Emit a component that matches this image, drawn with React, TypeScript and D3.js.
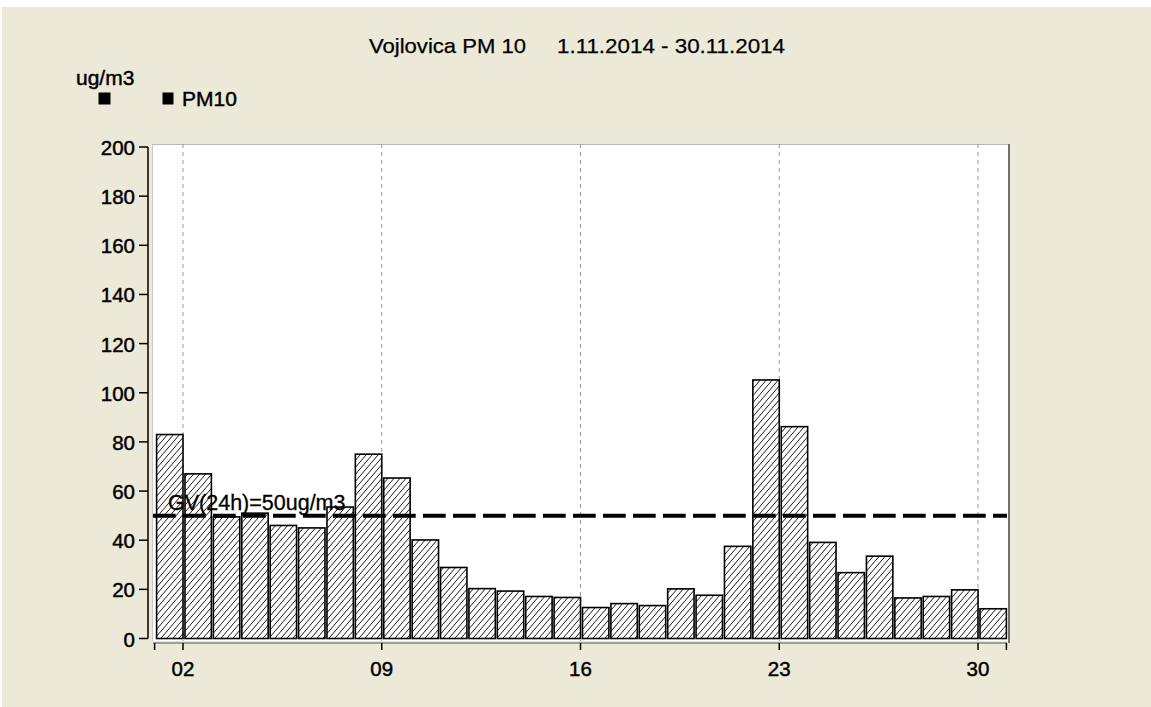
import React from "react";
import * as d3 from "d3";

const title1 = "Vojlovica PM 10";
const title2 = "1.11.2014 - 30.11.2014";
const unitLabel = "ug/m3";
const legendLabel = "PM10";
const limitLabel = "GV(24h)=50ug/m3";
const limitValue = 50;

const days: number[] = d3.range(1, 31);
const pm10: number[] = [
  83, 67, 49.5, 51, 46, 45, 53.5, 75, 65.3, 40.1,
  28.9, 20.3, 19.3, 17.1, 16.7, 12.6, 14.2, 13.4, 20.2, 17.6,
  37.5, 105.2, 86.2, 39.1, 26.8, 33.5, 16.5, 17.1, 19.8, 12.1,
];
const yTicks: number[] = [0, 20, 40, 60, 80, 100, 120, 140, 160, 180, 200];
const xTickDays: number[] = [2, 9, 16, 23, 30];

const FONT = "'Liberation Sans', Arial, sans-serif";

export default function App() {
  const day = (d: number) => new Date(Date.UTC(2014, 10, d));
  const x = d3.scaleUtc().domain([day(1), day(31)]).range([154.6, 1006.4]);
  const y = d3.scaleLinear().domain([0, 200]).range([638.5, 147]);
  const fmt = d3.utcFormat("%d");

  const plotL = 152, plotR = 1009, plotT = 144, plotB = 641;
  const axisY = 643;
  const axisX = 148;
  const bold = { stroke: "#000", strokeWidth: 0.45 };

  return (
    <svg width={1151} height={707} style={{ position: "absolute", left: 0, top: 0 }} fontFamily={FONT}>
      <defs>
        <pattern id="hatch" patternUnits="userSpaceOnUse" width={6} height={7}>
          <rect width={6} height={7} fill="#fff" />
          <path d="M0,7 L6,0 M-1,1.167 L1,-1.167 M5,8.167 L7,5.833" stroke="#000" strokeWidth={0.9} />
        </pattern>
      </defs>
      <rect x={0} y={0} width={1151} height={707} fill="#fff" />
      <rect x={2} y={7} width={1149} height={700} fill="#ECE9D8" />

      {/* title */}
      <text x={369} y={53} fontSize={21} textLength={157} lengthAdjust="spacingAndGlyphs" fill="#000" {...bold} strokeWidth={0.25}>{title1}</text>
      <text x={557} y={53} fontSize={21} textLength={228} lengthAdjust="spacingAndGlyphs" fill="#000" {...bold} strokeWidth={0.25}>{title2}</text>

      {/* unit + legend */}
      <text x={76} y={85} fontSize={21} fill="#000" {...bold}>{unitLabel}</text>
      <rect x={98.5} y={92.5} width={12} height={12} fill="#000" />
      <rect x={162.5} y={92.5} width={11} height={12} fill="#000" />
      <text x={182} y={106} fontSize={21} fill="#000" {...bold}>{legendLabel}</text>

      {/* plot area */}
      <rect x={plotL} y={plotT} width={plotR - plotL} height={plotB - plotT} fill="#fff" />
      <line x1={plotL} x2={plotR} y1={plotT + 0.5} y2={plotT + 0.5} stroke="#b8b8b8" strokeWidth={1} />
      <line x1={plotL + 0.5} x2={plotL + 0.5} y1={plotT} y2={plotB} stroke="#c8c8c8" strokeWidth={1} />
      <line x1={plotR} x2={plotR} y1={plotT} y2={axisY} stroke="#707070" strokeWidth={2} />

      {/* vertical dashed gridlines */}
      {xTickDays.map((d) => (
        <line key={"g" + d} x1={x(day(d))} x2={x(day(d))} y1={plotT} y2={plotB}
          stroke="#999" strokeWidth={1} strokeDasharray="4 4" />
      ))}

      {/* bars */}
      {days.map((d, i) => {
        const x0 = x(day(d)) + 2;
        const x1 = x(day(d + 1));
        return (
          <rect key={"b" + d} x={x0} y={y(pm10[i])} width={x1 - x0} height={y(0) - y(pm10[i])}
            fill="url(#hatch)" stroke="#000" strokeWidth={1.6} />
        );
      })}

      {/* limit line */}
      <line x1={153} x2={1007} y1={y(limitValue)} y2={y(limitValue)} stroke="#000" strokeWidth={4}
        strokeDasharray="22.7 7.3" />
      <text x={168} y={510} fontSize={21.5} fill="#000" {...bold} strokeWidth={0.3}>{limitLabel}</text>

      {/* y axis */}
      <line x1={axisX} x2={axisX} y1={y(200)} y2={y(0)} stroke="#000" strokeWidth={1.5} />
      {yTicks.map((t) => (
        <g key={"y" + t}>
          <line x1={axisX - 9} x2={axisX} y1={y(t)} y2={y(t)} stroke="#000" strokeWidth={1.5} />
          <text x={135} y={y(t) + 8} fontSize={20.5} textAnchor="end" fill="#000" {...bold}>{t}</text>
        </g>
      ))}

      {/* x axis */}
      <line x1={153} x2={1007} y1={axisY} y2={axisY} stroke="#555" strokeWidth={1} />
      {[day(1), ...xTickDays.map(day), day(31)].map((dt, i) => (
        <line key={"xt" + i} x1={x(dt)} x2={x(dt)} y1={axisY} y2={axisY + 7} stroke="#000" strokeWidth={1.5} />
      ))}
      {xTickDays.map((d) => (
        <text key={"xl" + d} x={x(day(d))} y={676} fontSize={20.5} textAnchor="middle" fill="#000" {...bold}>{fmt(day(d))}</text>
      ))}
    </svg>
  );
}
